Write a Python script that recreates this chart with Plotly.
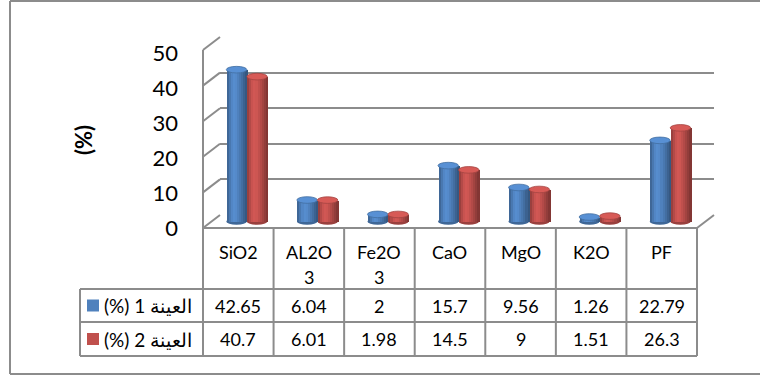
import plotly.graph_objects as go

# ---- data -------------------------------------------------------------
categories = ["SiO2", "AL2O3", "Fe2O3", "CaO", "MgO", "K2O", "PF"]
sample1 = [42.65, 6.04, 2, 15.7, 9.56, 1.26, 22.79]
sample2 = [40.7, 6.01, 1.98, 14.5, 9, 1.51, 26.3]
series_names = ["العينة 1 (%)", "العينة 2 (%)"]
y_ticks = [0, 10, 20, 30, 40, 50]
y_title = "(%)"

series_values = [sample1, sample2]
series_rgb = [(79, 129, 189), (192, 80, 77)]

# ---- geometry of the pseudo-3D frame (pixels) ----------------------------
W, H = 760, 376
FL, FR = 203, 697           # front floor edge, left / right
FB = 228                    # front floor baseline
DX, DY = 17, 13             # depth offset of the back wall
BB = FB - DY                # back wall baseline
FRONT_TOP, BACK_TOP = 50, 37
LABEL_TOP = 53              # where the "50" tick label sits
YMAX = 50
CELL = (FR - FL) / len(categories)
ROW1, ROW2, ROW3 = 289, 322, 356
LEG_LEFT = 80
BORDER = "#8c8c8c"
FONT = "Lato, 'Open Sans', sans-serif"
TABLE_SIZE = 18


def px(x):
    return x / W


def py(y):
    return 1 - y / H


def front_y(v):
    return FB - (FB - FRONT_TOP) * v / YMAX


def back_y(v):
    return BB - (BB - BACK_TOP) * v / YMAX


def shade(rgb, f):
    return "rgb(%d,%d,%d)" % tuple(max(0, min(255, round(c * f))) for c in rgb)


fig = go.Figure()

# back wall gridlines (x/y)
fig.add_trace(go.Scatter(x=[0], y=[0], mode="markers", marker=dict(opacity=0),
                         hoverinfo="skip", showlegend=False, xaxis="x", yaxis="y"))

# cylinders (x2/y2): each bar built from narrow strips to give a rounded shading
MID_X0 = FL + DX / 2
MID_B = (FB + BB) / 2
MID_TOP = (FRONT_TOP + BACK_TOP) / 2
unit_px = (MID_B - MID_TOP) / YMAX
Y2_MIN = -3
bar_w = 20.5 / CELL
profile = [0.80, 0.93, 1.04, 1.09, 1.07, 1.0, 0.93, 0.85, 0.76, 0.68]
n = len(profile)
step = bar_w / n
xs = list(range(len(categories)))
shapes = []
for s, (vals, rgb) in enumerate(zip(series_values, series_rgb)):
    start = -bar_w if s == 0 else 0.0
    for k, f in enumerate(profile):
        fig.add_trace(go.Bar(
            x=xs, y=vals, base=0, width=step * 1.25, offset=start + k * step,
            marker=dict(color=shade(rgb, f), line=dict(width=0)),
            hoverinfo="skip", showlegend=False, xaxis="x2", yaxis="y2"))
    eh = 3.3 / unit_px
    for i, v in enumerate(vals):
        shapes.append(dict(type="circle", xref="x2", yref="y2", layer="below",
                           x0=i + start, x1=i + start + bar_w, y0=-eh, y1=eh,
                           fillcolor=shade(rgb, 0.8), line=dict(width=0)))
        shapes.append(dict(type="circle", xref="x2", yref="y2",
                           x0=i + start, x1=i + start + bar_w, y0=v - eh, y1=v + eh,
                           fillcolor=shade(rgb, 1.12),
                           line=dict(color=shade(rgb, 0.85), width=0.8)))

# front tick labels (x3/y3)
fig.add_trace(go.Scatter(x=[0], y=[0], mode="markers", marker=dict(opacity=0),
                         hoverinfo="skip", showlegend=False, xaxis="x3", yaxis="y3"))

# ---- frame lines --------------------------------------------------------
def seg(x0, y0, x1, y1, color=BORDER, width=2):
    shapes.append(dict(type="line", xref="paper", yref="paper",
                       x0=px(x0), y0=py(y0), x1=px(x1), y1=py(y1),
                       line=dict(color=color, width=width)))


seg(FL, FB, FL, FRONT_TOP)
for t in y_ticks:
    seg(FL, front_y(t), FL + DX, back_y(t))
seg(FR, FB, FR + DX, BB)

# data table
seg(FL, FB, FR, FB)
for yy in (ROW1, ROW2, ROW3):
    seg(LEG_LEFT, yy, FR, yy)
seg(LEG_LEFT, ROW1, LEG_LEFT, ROW3)
for k in range(len(categories) + 1):
    xx = FL + k * CELL
    seg(xx, FB, xx, ROW3)

# outer chart border
seg(10, 1, 10, 374)
seg(10, 1, W, 1)
seg(10, 374, W, 374)

annotations = []


def label(x, y, text, size=TABLE_SIZE, **kw):
    annotations.append(dict(xref="paper", yref="paper", x=px(x), y=py(y),
                            text=text, showarrow=False,
                            font=dict(family=FONT, size=size, color="#000"), **kw))


# category headers (wrapped to the cell width)
for i, c in enumerate(categories):
    cx = FL + (i + 0.5) * CELL
    parts = [c[j:j + 4] for j in range(0, len(c), 4)]
    for j, p in enumerate(parts):
        label(cx, 252 + 25 * j, p, xanchor="center", yanchor="middle")

# value rows and legend keys
for r, (vals, rgb, name) in enumerate(zip(series_values, series_rgb, series_names)):
    cy = (ROW1 + ROW2) / 2 if r == 0 else (ROW2 + ROW3) / 2
    for i, v in enumerate(vals):
        label(FL + (i + 0.5) * CELL, cy, f"{v:g}", xanchor="center", yanchor="middle")
    shapes.append(dict(type="rect", xref="paper", yref="paper",
                       x0=px(87), x1=px(99), y0=py(cy - 6), y1=py(cy + 6),
                       fillcolor=shade(rgb, 1.0), line=dict(width=0)))
    label(102, cy, "\u202b" + name + "\u202c", size=19, xanchor="left", yanchor="middle")

# axis title
label(83, 140, "<b>" + y_title + "</b>", size=22, textangle=-90,
      xanchor="center", yanchor="middle")

hidden = dict(showgrid=False, zeroline=False, showline=False,
              showticklabels=False, ticks="", automargin=False)

fig.update_layout(
    template="none",
    width=W, height=H, margin=dict(l=0, r=0, t=0, b=0, pad=0, autoexpand=False),
    paper_bgcolor="white", plot_bgcolor="rgba(0,0,0,0)",
    barmode="overlay", bargap=0, showlegend=False,
    xaxis=dict(domain=[px(FL + DX), px(FR + DX)], range=[0, 1], **hidden),
    yaxis=dict(domain=[py(BB), py(BACK_TOP)], range=[0, YMAX], anchor="x",
               tickvals=y_ticks, showgrid=True, gridcolor=BORDER, gridwidth=2,
               zeroline=False, showline=False, showticklabels=False, ticks="",
               automargin=False),
    xaxis2=dict(domain=[px(MID_X0), px(MID_X0 + FR - FL)], range=[-0.5, len(categories) - 0.5],
                anchor="y2", **hidden),
    yaxis2=dict(domain=[py(MID_B - Y2_MIN * unit_px), py(MID_TOP)], range=[Y2_MIN, YMAX],
                anchor="x2", **hidden),
    xaxis3=dict(domain=[px(FL), px(FR)], range=[0, 1], anchor="y3", **hidden),
    yaxis3=dict(domain=[py(FB), py(LABEL_TOP)], range=[0, YMAX], anchor="x3",
                tickvals=y_ticks, showgrid=False, zeroline=False, showline=False,
                ticks="", ticklabelstandoff=24, automargin=False,
                tickfont=dict(family=FONT, size=22, color="#000")),
    shapes=shapes, annotations=annotations,
)

fig.write_html("out.html")
